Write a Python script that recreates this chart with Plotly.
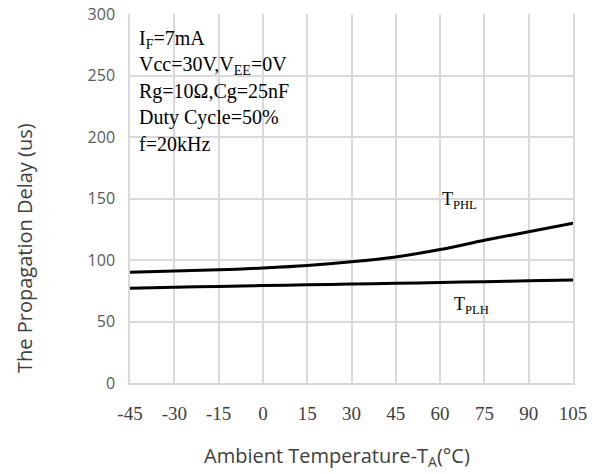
import plotly.graph_objects as go

temps = [-45, -30, -15, 0, 15, 30, 45, 60, 75, 90, 105]
tphl = [90, 91, 92, 93.5, 95.5, 98.5, 102.5, 108.5, 116, 123, 130]
tplh = [77, 77.8, 78.5, 79.2, 79.8, 80.4, 81, 81.7, 82.4, 83.1, 83.7]
x_ticks = [-45, -30, -15, 0, 15, 30, 45, 60, 75, 90, 105]
x_tick_labels = ["-45", "-30", "-15", "0", "15", "30", "45", "60", "75", "90", "105"]
y_ticks = [0, 50, 100, 150, 200, 250, 300]
conditions = ["I<sub>F</sub>=7mA", "Vcc=30V,V<sub>EE</sub>=0V", "Rg=10Ω,Cg=25nF",
              "Duty Cycle=50%", "f=20kHz"]

serif = "Liberation Serif"
sans = "Open Sans"

fig = go.Figure()
for ys in (tphl, tplh):
    fig.add_trace(go.Scatter(x=temps, y=ys, mode="lines",
                             line=dict(color="black", width=3, shape="spline"),
                             showlegend=False, hoverinfo="skip"))

grid = "#d9d9d9"
fig.update_xaxes(range=[-45, 105], tickvals=x_ticks, ticktext=x_tick_labels,
                 showgrid=True, gridcolor=grid, automargin=False,
                 gridwidth=1.5, showline=True, linecolor=grid, linewidth=1.5,
                 zeroline=False, ticks="", ticklabelstandoff=12,
                 tickfont=dict(family=serif, size=19, color="#404040"))
fig.update_yaxes(range=[0, 300], tickvals=y_ticks, showgrid=True, gridcolor=grid,
                 gridwidth=1.5, showline=True, linecolor=grid, linewidth=1.5,
                 mirror=True, zeroline=False, ticks="", ticklabelstandoff=10,
                 automargin=False,
                 tickfont=dict(family=sans, size=16, color="#595959"))

# plot-area pixel bounds, used to place free text
L, R, T, B = 130, 573, 14, 383


def px(xp):
    return (xp - L) / (R - L)


def py(yp):
    return (B - yp) / (B - T)


annotations = []
for i, t in enumerate(conditions):
    annotations.append(dict(x=px(137), y=py(39 + 26.3 * i), xref="paper", yref="paper",
                            text=t, showarrow=False, xanchor="left", yanchor="middle",
                            font=dict(family=serif, size=20, color="black")))

annotations.append(dict(x=60, y=148, xref="x", yref="y", text="T<sub>PHL</sub>",
                        showarrow=False, xanchor="left", yanchor="middle",
                        font=dict(family=serif, size=18, color="black")))
annotations.append(dict(x=64, y=63, xref="x", yref="y", text="T<sub>PLH</sub>",
                        showarrow=False, xanchor="left", yanchor="middle",
                        font=dict(family=serif, size=18, color="black")))
annotations.append(dict(x=px(24), y=py(248), xref="paper", yref="paper",
                        text="The Propagation Delay (us)",
                        showarrow=False, textangle=-90, xanchor="center", yanchor="middle",
                        font=dict(family=sans, size=20, color="#404040")))
annotations.append(dict(x=px(337), y=py(456), xref="paper", yref="paper",
                        text="Ambient Temperature-T<sub>A</sub>(°C)",
                        showarrow=False, xanchor="center", yanchor="middle",
                        font=dict(family=sans, size=20, color="#404040")))

fig.update_layout(width=606, height=474, margin=dict(l=L, r=606 - R, t=T, b=474 - B),
                  plot_bgcolor="white", paper_bgcolor="white",
                  annotations=annotations)
fig.write_html("out.html")
